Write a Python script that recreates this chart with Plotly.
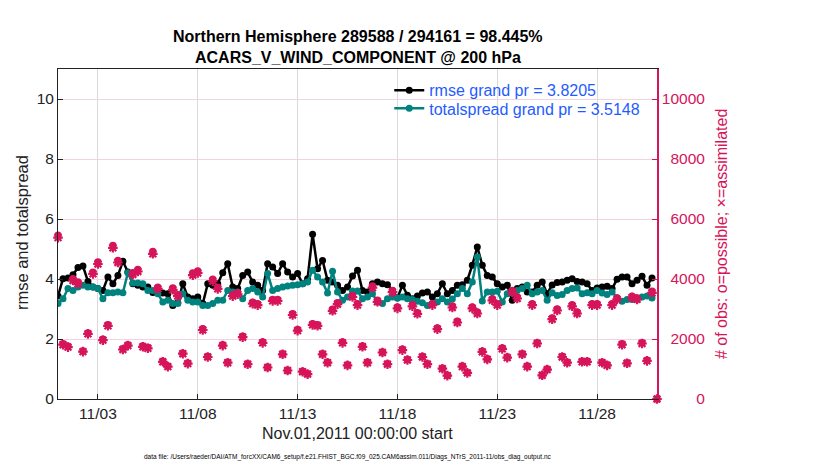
import pandas as pd
import plotly.graph_objects as go

# 6-hourly bins, Nov 01 2011 00Z .. Dec 01 2011 00Z
times = pd.date_range("2011-11-01 00:00", periods=121, freq="6h")

rmse = [3.43, 4.01, 4.03, 4.14, 4.38, 4.43, 3.92, 3.73, 3.68, 3.62,
        4.07, 3.84, 4.12, 4.59, 4.23, 3.84, 3.79, 3.73, 3.73, 3.55,
        3.57, 3.53, 3.51, 3.12, 3.21, 3.84, 3.40, 3.34, 3.40, 3.18,
        3.84, 3.79, 3.84, 4.21, 4.51, 3.73, 3.68, 4.12, 4.23, 3.90,
        3.79, 3.62, 4.51, 4.40, 4.18, 4.51, 4.23, 4.07, 4.18, 3.84,
        4.01, 5.49, 4.34, 4.62, 3.96, 3.90, 3.79, 3.62, 3.73, 4.10,
        4.29, 3.62, 3.57, 3.84, 3.90, 3.84, 3.81, 3.62, 3.37, 3.79,
        3.46, 3.34, 3.43, 3.53, 3.57, 3.40, 3.51, 3.84, 3.51, 3.62,
        3.79, 3.81, 3.96, 4.46, 5.07, 4.46, 4.12, 4.07, 3.84, 3.73,
        3.79, 3.29, 3.68, 3.73, 3.57, 3.57, 3.79, 3.90, 3.51, 3.80,
        3.88, 3.90, 3.96, 4.01, 3.92, 3.90, 3.84, 3.62, 3.70, 3.73,
        3.76, 3.68, 3.99, 4.07, 4.07, 3.84, 3.96, 4.09, 3.79, 4.03,
        None]

totalspread = [3.18, 3.34, 3.68, 3.62, 3.73, 3.79, 3.73, 3.73, 3.68, 3.34,
               3.54, 3.54, 3.57, 3.54, 4.21, 3.87, 3.87, 3.84, 3.62, 3.62,
               3.51, 3.23, 3.29, 3.18, 3.18, 3.51, 3.29, 3.23, 3.23, 3.12,
               3.12, 3.18, 3.29, 3.29, 3.62, 3.57, 3.57, 3.34, 3.62, 3.68,
               3.57, 3.40, 4.18, 3.62, 3.68, 3.73, 3.77, 3.79, 3.81, 3.84,
               3.90, 4.29, 4.07, 3.90, 3.53, 4.26, 3.57, 3.29, 3.40, 3.60,
               3.60, 3.34, 3.40, 3.51, 3.23, 3.18, 3.34, 3.40, 3.37, 3.40,
               3.34, 3.32, 3.26, 3.21, 3.12, 3.18, 3.23, 3.34, 3.23, 3.33,
               3.51, 3.68, 3.51, 3.90, 4.73, 3.27, 3.57, 3.57, 3.59, 3.23,
               3.51, 3.54, 3.62, 3.68, 3.79, 3.51, 3.57, 3.62, 3.29, 3.54,
               3.45, 3.48, 3.62, 3.68, 3.70, 3.51, 3.54, 3.51, 3.62, 3.53,
               3.48, 3.57, 3.37, 3.26, 3.32, 3.32, 3.32, 3.40, 3.43, 3.37,
               None]

obs_possible = [5460, 1840, 1760, 4010, 3900, 1600, 2200, 4230, 4570, 1990,
                2480, 5120, 4620, 1680, 1810, 4210, 4320, 1770, 1720, 4920,
                3730, 1260, 1100, 3700, 3480, 1530, 1200, 4200, 4270, 2340,
                1420, 3990, 3730, 1810, 1230, 3480, 3540, 2090, 1180, 3230,
                3180, 1900, 1070, 3320, 3320, 1510, 960, 2840, 2320, 920,
                840, 2510, 2480, 1510, 1230, 2990, 3210, 1900, 1140, 3450,
                3180, 1770, 1230, 3770, 3290, 1570, 1180, 3620, 3070, 1660,
                1320, 3140, 2880, 1420, 1180, 3180, 2370, 1030, 790, 3100,
                2590, 1100, 880, 3070, 2900, 1590, 1340, 3340, 3180, 1700,
                1400, 3620, 3400, 1510, 1100, 3180, 1880, 800, 1000, 2700,
                3000, 1420, 1230, 3140, 2900, 1260, 1260, 3180, 3180, 1230,
                1140, 3180, 3370, 1840, 1210, 3430, 3370, 1880, 1290, 3590,
                0]

# assimilated counts overlap the possible counts at this scale
obs_assimilated = [5380, 1810, 1730, 3950, 3840, 1580, 2170, 4170, 4500, 1960,
                   2440, 5040, 4550, 1650, 1780, 4150, 4250, 1740, 1690, 4840,
                   3670, 1240, 1080, 3640, 3430, 1510, 1180, 4130, 4200, 2300,
                   1400, 3930, 3670, 1780, 1210, 3430, 3490, 2060, 1160, 3180,
                   3130, 1870, 1050, 3270, 3270, 1490, 950, 2800, 2280, 910,
                   830, 2470, 2440, 1490, 1210, 2940, 3160, 1870, 1120, 3400,
                   3130, 1740, 1210, 3710, 3240, 1550, 1160, 3560, 3020, 1630,
                   1300, 3090, 2840, 1400, 1160, 3130, 2330, 1010, 780, 3050,
                   2550, 1080, 870, 3020, 2850, 1570, 1320, 3290, 3130, 1670,
                   1380, 3560, 3350, 1490, 1080, 3130, 1850, 790, 980, 2660,
                   2950, 1400, 1210, 3090, 2850, 1240, 1240, 3130, 3130, 1210,
                   1120, 3130, 3320, 1810, 1190, 3380, 3320, 1850, 1270, 3540,
                   0]

tick_dates = ["2011-11-03", "2011-11-08", "2011-11-13", "2011-11-18",
              "2011-11-23", "2011-11-28"]
tick_labels = ["11/03", "11/08", "11/13", "11/18", "11/23", "11/28"]
left_ticks = [0, 2, 4, 6, 8, 10]
right_ticks = [0, 2000, 4000, 6000, 8000, 10000]
right_labels = ["0", "2000", "4000", "6000", "8000", "10000"]

CRIMSON = "#D6145A"
TEAL = "#00827F"
BLUE = "#1F5BFF"
FONT = "Liberation Sans, Arial, Helvetica, sans-serif"

# right-axis labels are centred in the reference: pad narrower ones
NBSP = "\u00a0"
widest = max(len(s) for s in right_labels)
right_text = [NBSP * (2 * (widest - len(s))) + s for s in right_labels]

fig = go.Figure()

fig.add_trace(go.Scatter(
    x=times, y=rmse, mode="lines+markers", name="rmse grand pr = 3.8205",
    line=dict(color="black", width=2.5), marker=dict(color="black", size=7),
    legend="legend"))
fig.add_trace(go.Scatter(
    x=times, y=totalspread, mode="lines+markers", name="totalspread grand pr = 3.5148",
    line=dict(color=TEAL, width=2.5), marker=dict(color=TEAL, size=7),
    legend="legend2"))
fig.add_trace(go.Scatter(
    x=times, y=obs_possible, mode="markers", yaxis="y2", showlegend=False,
    cliponaxis=False,
    marker=dict(symbol="circle-open", size=5, color=CRIMSON,
                line=dict(color=CRIMSON, width=2.4))))
fig.add_trace(go.Scatter(
    x=times, y=obs_assimilated, mode="markers", yaxis="y2", showlegend=False,
    cliponaxis=False,
    marker=dict(symbol="asterisk-open", size=8, color=CRIMSON,
                line=dict(color=CRIMSON, width=2.2))))

legend_common = dict(xanchor="left", yanchor="top", bgcolor="rgba(0,0,0,0)",
                     borderwidth=0, font=dict(color=BLUE, size=16, family=FONT),
                     itemwidth=30)

fig.update_layout(
    width=822, height=462,
    margin=dict(l=50, r=173, t=61, b=71),
    paper_bgcolor="white", plot_bgcolor="white",
    font=dict(family=FONT, size=15, color="black"),
    showlegend=True,
    legend=dict(x=0.553, y=0.987, **legend_common),
    legend2=dict(x=0.553, y=0.932, **legend_common),
    xaxis=dict(
        range=[times[0], times[-1]],
        tickmode="array", tickvals=tick_dates, ticktext=tick_labels,
        ticks="inside", ticklen=5, tickcolor="#222222",
        showline=True, linecolor="#222222", linewidth=1, mirror=True,
        showgrid=True, gridcolor="#DADADA", gridwidth=1,
        zeroline=False, tickfont=dict(size=15.5, color="#222222"),
    ),
    yaxis=dict(
        range=[0, 11], tickmode="array", tickvals=left_ticks,
        ticks="inside", ticklen=5, tickcolor="#222222",
        showline=True, linecolor="#222222", linewidth=1,
        showgrid=False, zeroline=False,
        tickfont=dict(size=15.5, color="#222222"),
    ),
    yaxis2=dict(
        range=[0, 11000], overlaying="y", side="right",
        tickmode="array", tickvals=right_ticks, ticktext=right_text,
        ticks="inside", ticklen=5, tickcolor=CRIMSON,
        showline=True, linecolor=CRIMSON, linewidth=1.5,
        showgrid=True, gridcolor="#F3D3DF", gridwidth=1,
        zeroline=False, tickfont=dict(size=15.5, color=CRIMSON),
    ),
)

annotations = [
    dict(text="<b>Northern Hemisphere 289588 / 294161 = 98.445%</b>",
         xref="paper", yref="paper", x=0.5, y=1.097, xanchor="center", yanchor="middle",
         showarrow=False, font=dict(size=16, color="black", family=FONT)),
    dict(text="<b>ACARS_V_WIND_COMPONENT @ 200 hPa</b>",
         xref="paper", yref="paper", x=0.5, y=1.036, xanchor="center", yanchor="middle",
         showarrow=False, font=dict(size=16, color="black", family=FONT)),
    dict(text="rmse and totalspread", xref="paper", yref="paper",
         x=-0.060, y=0.503, xanchor="center", yanchor="middle", textangle=-90,
         showarrow=False, font=dict(size=16.5, color="#222222", family=FONT)),
    dict(text="# of obs: o=possible; \u00d7=assimilated", xref="paper", yref="paper",
         x=1.107, y=0.5, xanchor="center", yanchor="middle", textangle=-90,
         showarrow=False, font=dict(size=16, color=CRIMSON, family=FONT)),
    dict(text="Nov.01,2011 00:00:00 start", xref="paper", yref="paper",
         x=0.5, y=-0.106, xanchor="center", yanchor="middle",
         showarrow=False, font=dict(size=16, color="#222222", family=FONT)),
    dict(text="data file: /Users/raeder/DAI/ATM_forcXX/CAM6_setup/f.e21.FHIST_BGC.f09_025.CAM6assim.011/Diags_NTrS_2011-11/obs_diag_output.nc",
         xref="paper", yref="paper", x=0.484, y=-0.176, xanchor="center", yanchor="middle",
         showarrow=False, font=dict(size=6.5, color="black", family=FONT)),
]
fig.update_layout(annotations=annotations)

fig.write_html("out.html")
